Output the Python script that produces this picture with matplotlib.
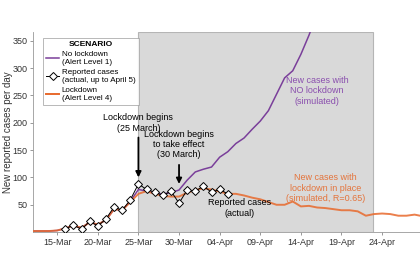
import matplotlib
matplotlib.use("Agg")
import matplotlib.pyplot as plt
import matplotlib.dates as mdates
import numpy as np
import pandas as pd
from matplotlib.lines import Line2D

plt.rcParams['font.family'] = ['Liberation Sans', 'DejaVu Sans']

# simulated scenarios, daily from 12 March
sim_dates = pd.date_range('2020-03-12', '2020-04-29', freq='D')
no_lockdown = [2, 2, 2, 3, 7, 12, 8, 18, 14, 22, 42, 40, 56, 78,
               75, 71, 70, 72, 77, 95, 110, 115, 119, 137, 147, 162, 172,
               188, 203, 222, 252, 282, 295, 325, 360, 400,
               np.nan, np.nan, np.nan, np.nan, np.nan, np.nan, np.nan,
               np.nan, np.nan, np.nan, np.nan, np.nan, np.nan]
lockdown = [2, 2, 2, 3, 7, 12, 8, 18, 14, 22, 42, 40, 55, 70,
            75, 70, 66, 65, 65, 72, 77, 80, 78, 74, 70, 70, 67,
            63, 60, 55, 50, 50, 56, 47, 48, 45, 44, 42, 40,
            40, 38, 30, 33, 34, 33, 30, 30, 32, 29]

# reported cases, 16 March to 5 April
rep_dates = pd.date_range('2020-03-16', '2020-04-05', freq='D')
reported = [6, 13, 5, 20, 11, 24, 46, 40, 59, 88, 78, 73, 67, 75,
            53, 77, 75, 84, 73, 78, 70]

xtick_dates = pd.to_datetime(['2020-03-15', '2020-03-20', '2020-03-25',
                              '2020-03-30', '2020-04-04', '2020-04-09',
                              '2020-04-14', '2020-04-19', '2020-04-24'])
yticks = [50, 100, 150, 200, 250, 300, 350]

purple = '#7a3f9a'
orange = '#e8692c'

fig = plt.figure(figsize=(4.2, 2.8), dpi=100)
ax = fig.add_axes([0.079, 0.171, 0.921, 0.715])

ax.axvspan(pd.Timestamp('2020-03-25'), pd.Timestamp('2020-04-22 22:00'),
           color='#d9d9d9', ec='#b5b5b5', lw=0.8, zorder=0)

ax.plot(sim_dates, no_lockdown, color=purple, lw=1.1, zorder=2)
ax.plot(sim_dates, lockdown, color=orange, lw=1.4, alpha=0.85, zorder=3)
ax.plot(rep_dates, reported, color='black', lw=0.7, marker='D', ms=3.6,
        mfc='white', mec='black', mew=0.7, zorder=4)

ax.set_xlim(pd.Timestamp('2020-03-12 01:00'), pd.Timestamp('2020-04-28 16:00'))
ax.set_ylim(0, 366)
ax.set_xticks(xtick_dates)
ax.xaxis.set_major_formatter(mdates.DateFormatter('%d-%b'))
ax.set_yticks(yticks)
ax.tick_params(labelsize=6.5, length=2, width=0.6, color='#888888',
               labelcolor='#333333', pad=2)
ax.set_ylabel('New reported cases per day', fontsize=7, color='#333333')
ax.yaxis.set_label_coords(-0.052, 0.5)
for s in ['top', 'right']:
    ax.spines[s].set_visible(False)
for s in ['left', 'bottom']:
    ax.spines[s].set_color('#999999')
    ax.spines[s].set_linewidth(0.6)

# arrows and notes
ax.annotate('', xy=(pd.Timestamp('2020-03-25'), 95),
            xytext=(pd.Timestamp('2020-03-25'), 178),
            arrowprops=dict(arrowstyle='-|>', color='black', lw=1.3,
                            mutation_scale=8))
ax.text(pd.Timestamp('2020-03-25'), 182, 'Lockdown begins\n(25 March)',
        ha='center', va='bottom', fontsize=6.5, linespacing=1.2)
ax.annotate('', xy=(pd.Timestamp('2020-03-30'), 83),
            xytext=(pd.Timestamp('2020-03-30'), 128),
            arrowprops=dict(arrowstyle='-|>', color='black', lw=1.3,
                            mutation_scale=8))
ax.text(pd.Timestamp('2020-03-30'), 133, 'Lockdown begins\nto take effect\n(30 March)',
        ha='center', va='bottom', fontsize=6.5, linespacing=1.2)
ax.text(pd.Timestamp('2020-04-06 12:00'), 26, 'Reported cases\n(actual)',
        ha='center', va='bottom', fontsize=6.5, linespacing=1.2)
ax.text(pd.Timestamp('2020-04-16'), 258, 'New cases with\nNO lockdown\n(simulated)',
        ha='center', va='center', fontsize=6.5, color='#8a4fae', linespacing=1.2)
ax.text(pd.Timestamp('2020-04-17'), 80, 'New cases with\nlockdown in place\n(simulated, R=0.65)',
        ha='center', va='center', fontsize=6.5, color='#e4743c', linespacing=1.2)

handles = [Line2D([], [], color=purple, lw=1.1),
           Line2D([], [], color='black', lw=0.7, marker='D', ms=3.6,
                  mfc='white', mec='black', mew=0.7),
           Line2D([], [], color=orange, lw=1.4)]
labels = ['No lockdown\n(Alert Level 1)',
          'Reported cases\n(actual, up to April 5)',
          'Lockdown\n(Alert Level 4)']
leg = ax.legend(handles, labels, title='SCENARIO', loc='upper left',
                bbox_to_anchor=(0.015, 0.99), fontsize=5.8, title_fontsize=6,
                frameon=True, fancybox=False, edgecolor='#999999',
                handlelength=1.6, handletextpad=0.3, labelspacing=0.35,
                borderpad=0.4)
leg.get_frame().set_linewidth(0.6)
leg.get_title().set_fontweight('bold')

fig.savefig('out.png', dpi=100)
